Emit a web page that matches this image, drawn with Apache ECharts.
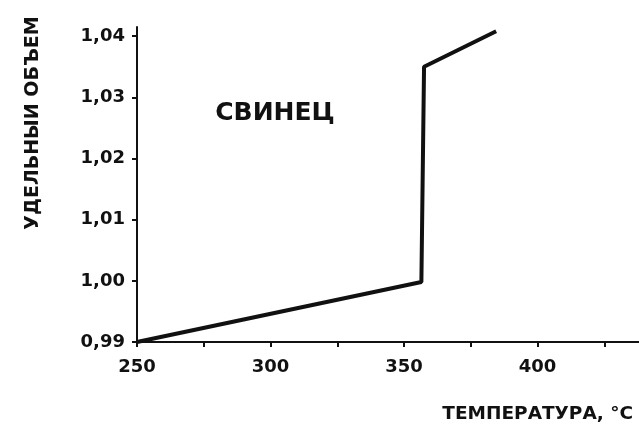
<!DOCTYPE html>
<html>
<head>
<meta charset="utf-8">
<script src="https://cdn.jsdelivr.net/npm/echarts@6/dist/echarts.min.js"></script>
<style>
  html, body { margin: 0; padding: 0; background: #fff; }
  #chart { width: 639px; height: 424px; }
</style>
</head>
<body>
<div id="chart"></div>
<script>
// кривая удельного объема свинца
const temps = [250, 356.5, 357.5, 384.5]
const volumes = [0.99, 0.9998, 1.035, 1.0408]
const xMajorTicks = [250, 300, 350, 400]

const font = 'DejaVu Sans, Liberation Sans, sans-serif'
const chart = echarts.init(document.getElementById('chart'))

const option = {
  backgroundColor: '#fff',
  animation: false,
  grid: { left: 137, right: 0, top: 27, bottom: 82 },
  xAxis: {
    type: 'value',
    min: 250,
    max: 438,
    interval: 25,
    axisLine: { lineStyle: { color: '#111', width: 2 } },
    axisTick: { show: true, length: 5, lineStyle: { color: '#111', width: 2 } },
    splitLine: { show: false },
    axisLabel: {
      color: '#111',
      fontFamily: font,
      fontWeight: 'bold',
      fontSize: 18,
      margin: 16,
      showMaxLabel: false,
      formatter: v => xMajorTicks.includes(v) ? String(v) : ''
    }
  },
  yAxis: {
    type: 'value',
    min: 0.99,
    max: 1.0415,
    interval: 0.01,
    axisLine: { show: true, lineStyle: { color: '#111', width: 2 } },
    axisTick: { show: true, length: 5, lineStyle: { color: '#111', width: 2 } },
    splitLine: { show: false },
    axisLabel: {
      color: '#111',
      fontFamily: font,
      fontWeight: 'bold',
      fontSize: 18,
      margin: 12,
      showMaxLabel: false,
      formatter: v => v.toFixed(2).replace('.', ',')
    }
  },
  graphic: [
    {
      type: 'text',
      x: 275, y: 113,
      style: {
        text: 'СВИНЕЦ', font: 'bold 25px ' + font, fill: '#111',
        align: 'center', verticalAlign: 'middle'
      }
    },
    {
      type: 'text',
      x: 33, y: 123,
      rotation: Math.PI / 2,
      style: {
        text: 'УДЕЛЬНЫИ ОБЪЕМ', font: 'bold 19px ' + font, fill: '#111',
        align: 'center', verticalAlign: 'middle'
      }
    },
    {
      type: 'text',
      x: 633, y: 414,
      style: {
        text: 'ТЕМПЕРАТУРА, °C', font: 'bold 18.5px ' + font, fill: '#111',
        align: 'right', verticalAlign: 'middle'
      }
    }
  ],
  series: [{
    type: 'line',
    data: temps.map((t, i) => [t, volumes[i]]),
    showSymbol: false,
    lineStyle: { color: '#111', width: 4 }
  }]
}

chart.setOption(option)
</script>
</body>
</html>
